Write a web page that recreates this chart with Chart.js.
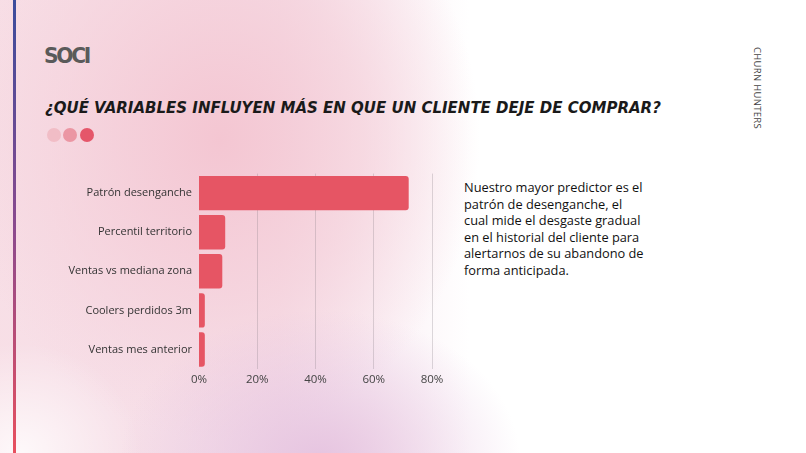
<!DOCTYPE html>
<html>
<head>
<meta charset="utf-8">
<script src="https://cdn.jsdelivr.net/npm/chart.js@4"></script>
<style>
  html, body { margin: 0; padding: 0; }
  body {
    width: 806px; height: 453px; overflow: hidden; position: relative;
    font-family: "Open Sans", sans-serif;
    background:
      radial-gradient(ellipse 200px 150px at 320px 460px, rgba(230,196,224,1), rgba(230,196,224,0) 100%),
      radial-gradient(ellipse 120px 110px at 20px 453px, rgba(255,255,255,0.8), rgba(255,255,255,0) 100%),
      radial-gradient(ellipse 260px 300px at 220px 140px, rgba(244,198,210,1) 0%, rgba(245,208,218,0.7) 55%, rgba(255,255,255,0) 100%),
      linear-gradient(to right, rgba(245,212,222,0.75) 0px, rgba(242,212,226,0.7) 280px, rgba(255,255,255,0) 470px),
      #ffffff;
  }
  .side-line {
    position: absolute; left: 13px; top: 0; width: 3px; height: 453px;
    background: linear-gradient(#3b4c9c, #8a4a8e 50%, #e8505e);
  }
  .logo {
    position: absolute; left: 44px; top: 43px; font-family: "DejaVu Sans", sans-serif;
    font-weight: bold; font-size: 22px; line-height: 26px; color: #5a5a5a; letter-spacing: -2.5px;
    transform: scaleX(0.92); transform-origin: left;
  }
  .title {
    position: absolute; left: 45px; top: 99px; font-family: "DejaVu Sans", sans-serif;
    font-weight: bold; font-style: italic; font-size: 15px; color: #1a1a1a; white-space: nowrap;
  }
  .dot { position: absolute; top: 128px; width: 14px; height: 14px; border-radius: 50%; }
  .side-text {
    position: absolute; left: 751px; top: 47px; writing-mode: vertical-rl;
    font-size: 9.5px; color: #444; letter-spacing: 0.3px;
  }
  .note {
    position: absolute; left: 464px; top: 179px; white-space: nowrap;
    font-family: "Open Sans", sans-serif; font-size: 12.8px; line-height: 16.6px; color: #111;
  }
  #wrap { position: absolute; left: 40px; top: 160px; width: 412px; height: 229px; }
</style>
</head>
<body>
<div class="side-line"></div>
<div class="logo">SOCI</div>
<div class="title">¿QUÉ VARIABLES INFLUYEN MÁS EN QUE UN CLIENTE DEJE DE COMPRAR?</div>
<div class="dot" style="left:47px;background:#f1bdc6"></div>
<div class="dot" style="left:63px;background:#eb96a3"></div>
<div class="dot" style="left:80px;background:#e5566a"></div>
<div class="side-text">CHURN HUNTERS</div>
<div class="note">Nuestro mayor predictor es el<br>patrón de desenganche, el<br>cual mide el desgaste gradual<br>en el historial del cliente para<br>alertarnos de su abandono de<br>forma anticipada.</div>
<div id="wrap"><canvas id="chart"></canvas></div>
<script>
// Variables and their importance (%)
const categories = ['Patrón desenganche', 'Percentil territorio', 'Ventas vs mediana zona', 'Coolers perdidos 3m', 'Ventas mes anterior'];
const importance = [72, 9, 8, 2, 2];
const tickValues = [0, 20, 40, 60, 80];

const barColor = '#e65564';

new Chart(document.getElementById('chart'), {
  type: 'bar',
  data: {
    labels: categories,
    datasets: [{
      data: importance,
      backgroundColor: barColor,
      borderRadius: { topRight: 3, bottomRight: 3, topLeft: 0, bottomLeft: 0 },
      borderSkipped: 'start',
      categoryPercentage: 0.88,
      barPercentage: 1
    }]
  },
  options: {
    indexAxis: 'y',
    responsive: true,
    maintainAspectRatio: false,
    animation: false,
    layout: { padding: { top: 13, right: 20, bottom: 0, left: 0 } },
    plugins: { legend: { display: false }, tooltip: { enabled: false } },
    scales: {
      x: {
        min: 0, max: 80,
        afterBuildTicks: axis => { axis.ticks = tickValues.map(v => ({ value: v })); },
        afterFit: axis => { axis.height = 20; },
        border: { display: false },
        grid: { color: 'rgba(120,110,120,0.25)', drawTicks: false, lineWidth: ctx => ctx.tick && ctx.tick.value === 0 ? 0 : 1 },
        ticks: { padding: 4, color: '#444', font: { family: 'Open Sans', size: 11.5 }, callback: v => v + '%' }
      },
      y: {
        afterFit: axis => { axis.width = 159; },
        border: { display: false },
        grid: { display: false, drawTicks: false },
        ticks: { padding: 7, color: '#333', font: { family: 'Open Sans', size: 11 } }
      }
    }
  }
});
</script>
</body>
</html>
